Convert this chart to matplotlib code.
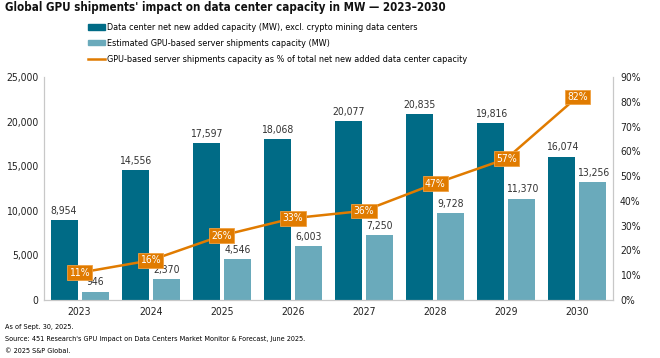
import matplotlib.pyplot as plt
import numpy as np
from matplotlib.patches import Patch
from matplotlib.lines import Line2D

# Daten
years = ['2023', '2024', '2025', '2026', '2027', '2028', '2029', '2030']
dc_capacity = [8954, 14556, 17597, 18068, 20077, 20835, 19816, 16074]
gpu_capacity = [946, 2370, 4546, 6003, 7250, 9728, 11370, 13256]
gpu_share = [11, 16, 26, 33, 36, 47, 57, 82]

c_dark = '#006b86'
c_light = '#6aaabb'
c_orange = '#e07b00'
c_axis = '#c8c8c8'

plt.rcParams['font.family'] = ['DejaVu Sans']
plt.rcParams['font.stretch'] = 'condensed'

fig = plt.figure(figsize=(6.6, 3.58), dpi=100)
ax = fig.add_axes([44/660, 58/358, 569/660, 223/358])
ax2 = ax.twinx()

x = np.arange(len(years))
w = 0.38
off = 0.218
ax.bar(x - off, dc_capacity, w, color=c_dark, zorder=2)
ax.bar(x + off, gpu_capacity, w, color=c_light, zorder=2)

# Balkenbeschriftungen
for xi, v in zip(x - off, dc_capacity):
    ax.annotate(f'{v:,}', (xi, v), xytext=(0, 3), textcoords='offset points',
                ha='center', va='bottom', fontsize=7.5, color='#333333')
for xi, v in zip(x + off, gpu_capacity):
    ax.annotate(f'{v:,}', (xi, v), xytext=(0, 3), textcoords='offset points',
                ha='center', va='bottom', fontsize=7.5, color='#333333')

ax.set_ylim(0, 25000)
ax.set_yticks(np.arange(0, 25001, 5000))
ax.set_yticklabels([f'{v:,}' for v in range(0, 25001, 5000)])
ax.set_xlim(-0.5, len(years) - 0.5)
ax.set_xticks(x)
ax.set_xticklabels(years)

# Anteil in Prozent
ax2.set_ylim(0, 90)
ax2.set_yticks(np.arange(0, 91, 10))
ax2.set_yticklabels([f'{v}%' for v in range(0, 91, 10)])
ax2.plot(x, gpu_share, color=c_orange, linewidth=1.8, zorder=3)
for xi, v in zip(x, gpu_share):
    ax2.text(xi, v, f'{v}%', ha='center', va='center', fontsize=7.5, color='white',
             bbox=dict(boxstyle='square,pad=0.22', fc=c_orange, ec='#f0a040', lw=0.6), zorder=4)

for a in (ax, ax2):
    a.spines['top'].set_visible(False)
    for s in ['left', 'right', 'bottom']:
        a.spines[s].set_color(c_axis)
    a.tick_params(length=0, labelsize=7.5, colors='#222222')
ax.tick_params(axis='x', pad=5)
ax.tick_params(axis='y', pad=4)
ax2.tick_params(axis='y', pad=5)

fig.text(5/660, 1 - 8/358, "Global GPU shipments' impact on data center capacity in MW \u2014 2023\u20132030",
         fontsize=8.3, fontweight='bold', va='center', color='#111111')

handles = [
    Patch(color=c_dark),
    Patch(color=c_light),
    Line2D([0], [0], color=c_orange, linewidth=1.8),
]
labels = [
    'Data center net new added capacity (MW), excl. crypto mining data centers',
    'Estimated GPU-based server shipments capacity (MW)',
    'GPU-based server shipments capacity as % of total net new added data center capacity',
]
fig.legend(handles, labels, loc='upper left', bbox_to_anchor=(88/660, 1 - 23/358), frameon=False,
           fontsize=6.5, handlelength=1.9, handleheight=0.55, handletextpad=0.25,
           labelspacing=0.75, borderaxespad=0, borderpad=0)

fig.text(5/660, 1 - 327/358, 'As of Sept. 30, 2025.', fontsize=5.2, va='center')
fig.text(5/660, 1 - 339/358, "Source: 451 Research's GPU Impact on Data Centers Market Monitor & Forecast, June 2025.",
         fontsize=5.2, va='center')
fig.text(5/660, 1 - 351/358, '\u00a9 2025 S&P Global.', fontsize=5.2, va='center')

plt.savefig('out.png', dpi=100)
plt.close()
